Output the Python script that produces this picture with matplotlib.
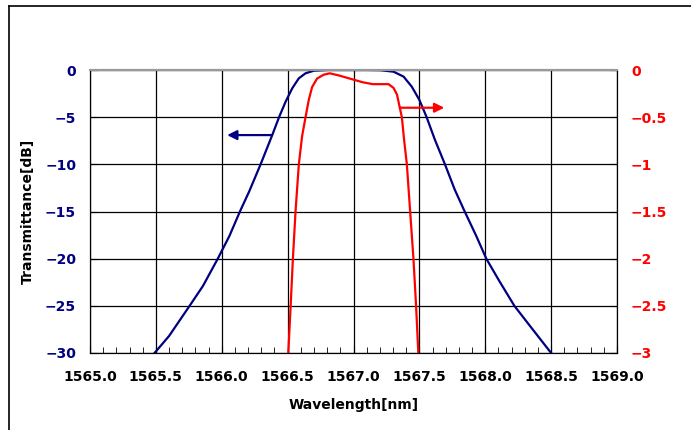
import numpy as np
import matplotlib
matplotlib.use('Agg')
import matplotlib.pyplot as plt
from matplotlib.lines import Line2D
from matplotlib.ticker import MultipleLocator, FuncFormatter

# blue curve, transmittance in dB (left axis)
wl_db = [1565.49, 1565.60, 1565.756, 1565.857, 1565.97, 1566.058, 1566.138, 1566.209,
         1566.296, 1566.384, 1566.435, 1566.485, 1566.535, 1566.585, 1566.636, 1566.70,
         1566.81, 1566.90, 1567.00, 1567.10, 1567.204, 1567.304, 1567.38, 1567.442,
         1567.50, 1567.555, 1567.618, 1567.693, 1567.769, 1567.844, 1567.932, 1568.008,
         1568.108, 1568.221, 1568.36, 1568.50]
t_db = [-30, -28.2, -25, -22.9, -20, -17.6, -15.0, -12.85,
        -9.96, -6.87, -5.0, -3.35, -1.94, -0.88, -0.35, -0.07,
        0, 0, 0, 0, -0.02, -0.18, -0.7, -1.76,
        -3.17, -5.0, -7.4, -9.96, -12.7, -15.0, -17.6, -20,
        -22.4, -25, -27.5, -30]

# red curve, passband detail (right axis)
wl_pb = [1566.505, 1566.523, 1566.54, 1566.56, 1566.585, 1566.61, 1566.636, 1566.66,
         1566.686, 1566.724, 1566.774, 1566.82, 1566.895, 1566.994, 1567.07, 1567.146,
         1567.204, 1567.266, 1567.304, 1567.33, 1567.35, 1567.367, 1567.384, 1567.405,
         1567.43, 1567.455, 1567.475, 1567.492]
t_pb = [-3.0, -2.5, -2.0, -1.5, -1.0, -0.70, -0.50, -0.32,
        -0.18, -0.09, -0.05, -0.035, -0.06, -0.10, -0.13, -0.15,
        -0.15, -0.15, -0.19, -0.26, -0.39, -0.50, -0.74, -1.0,
        -1.5, -2.0, -2.5, -3.0]

navy = '#000080'
red = '#ff0000'
plt.rcParams['font.family'] = ['DejaVu Sans']
plt.rcParams['axes.unicode_minus'] = True

fig = plt.figure(figsize=(6.91, 4.30), dpi=100)
ax = fig.add_axes([90/691, 1-353/430, 527/691, 283/430])
ax2 = ax.twinx()

ax.plot(wl_db, t_db, color=navy, lw=1.6, solid_joinstyle='round')
ax2.plot(wl_pb, t_pb, color=red, lw=1.6, solid_joinstyle='round')

ax.set_xlim(1565.0, 1569.0)
ax.set_ylim(-30, 0)
ax2.set_ylim(-3, 0)
ax.xaxis.set_major_locator(MultipleLocator(0.5))
ax.xaxis.set_minor_locator(MultipleLocator(0.1))
ax.yaxis.set_major_locator(MultipleLocator(5))
ax2.yaxis.set_major_locator(MultipleLocator(0.5))

def minus(s):
    return s.replace('-', '\u2212')

ax.xaxis.set_major_formatter(FuncFormatter(lambda v, p: '%.1f' % v))
ax.yaxis.set_major_formatter(FuncFormatter(lambda v, p: minus('%d' % round(v)) if round(v) != 0 else '0'))
ax2.yaxis.set_major_formatter(FuncFormatter(lambda v, p: minus('%g' % v) if abs(v) > 1e-9 else '0'))

ax.grid(True, which='major', color='black', lw=0.9)
ax.tick_params(axis='x', which='major', direction='in', length=5, color='black', pad=12)
ax.tick_params(axis='x', which='minor', direction='in', length=4, color='black')
ax.tick_params(axis='y', direction='in', length=5, pad=10)
ax2.tick_params(axis='y', direction='in', length=5, pad=10)

for lab in ax.get_xticklabels():
    lab.set_fontweight('bold')
    lab.set_fontsize(10)
for lab in ax.get_yticklabels():
    lab.set_fontweight('bold')
    lab.set_fontsize(10)
    lab.set_color(navy)
for lab in ax2.get_yticklabels():
    lab.set_fontweight('bold')
    lab.set_fontsize(10)
    lab.set_color(red)

for a in (ax, ax2):
    a.spines['top'].set_color('#999999')
    a.spines['top'].set_linewidth(1.5)

ax.set_xlabel('Wavelength[nm]', fontsize=10, fontweight='bold', labelpad=10)
ax.set_ylabel('Transmittance[dB]', fontsize=10, fontweight='bold', labelpad=7)

# direction arrows
ax.annotate('', xy=(1566.02, -6.9), xytext=(1566.40, -6.9),
            arrowprops=dict(arrowstyle='-|>', color=navy, lw=1.6, mutation_scale=14))
ax2.annotate('', xy=(1567.71, -0.40), xytext=(1567.33, -0.40),
             arrowprops=dict(arrowstyle='-|>', color=red, lw=1.6, mutation_scale=14))

# outer frame (left and top edges only)
fig.add_artist(Line2D([9/691, 9/691], [0, 1-6/430], color='black', lw=1.2))
fig.add_artist(Line2D([9/691, 1], [1-6/430, 1-6/430], color='black', lw=1.2))

fig.savefig('out.png', dpi=100)
plt.close(fig)
